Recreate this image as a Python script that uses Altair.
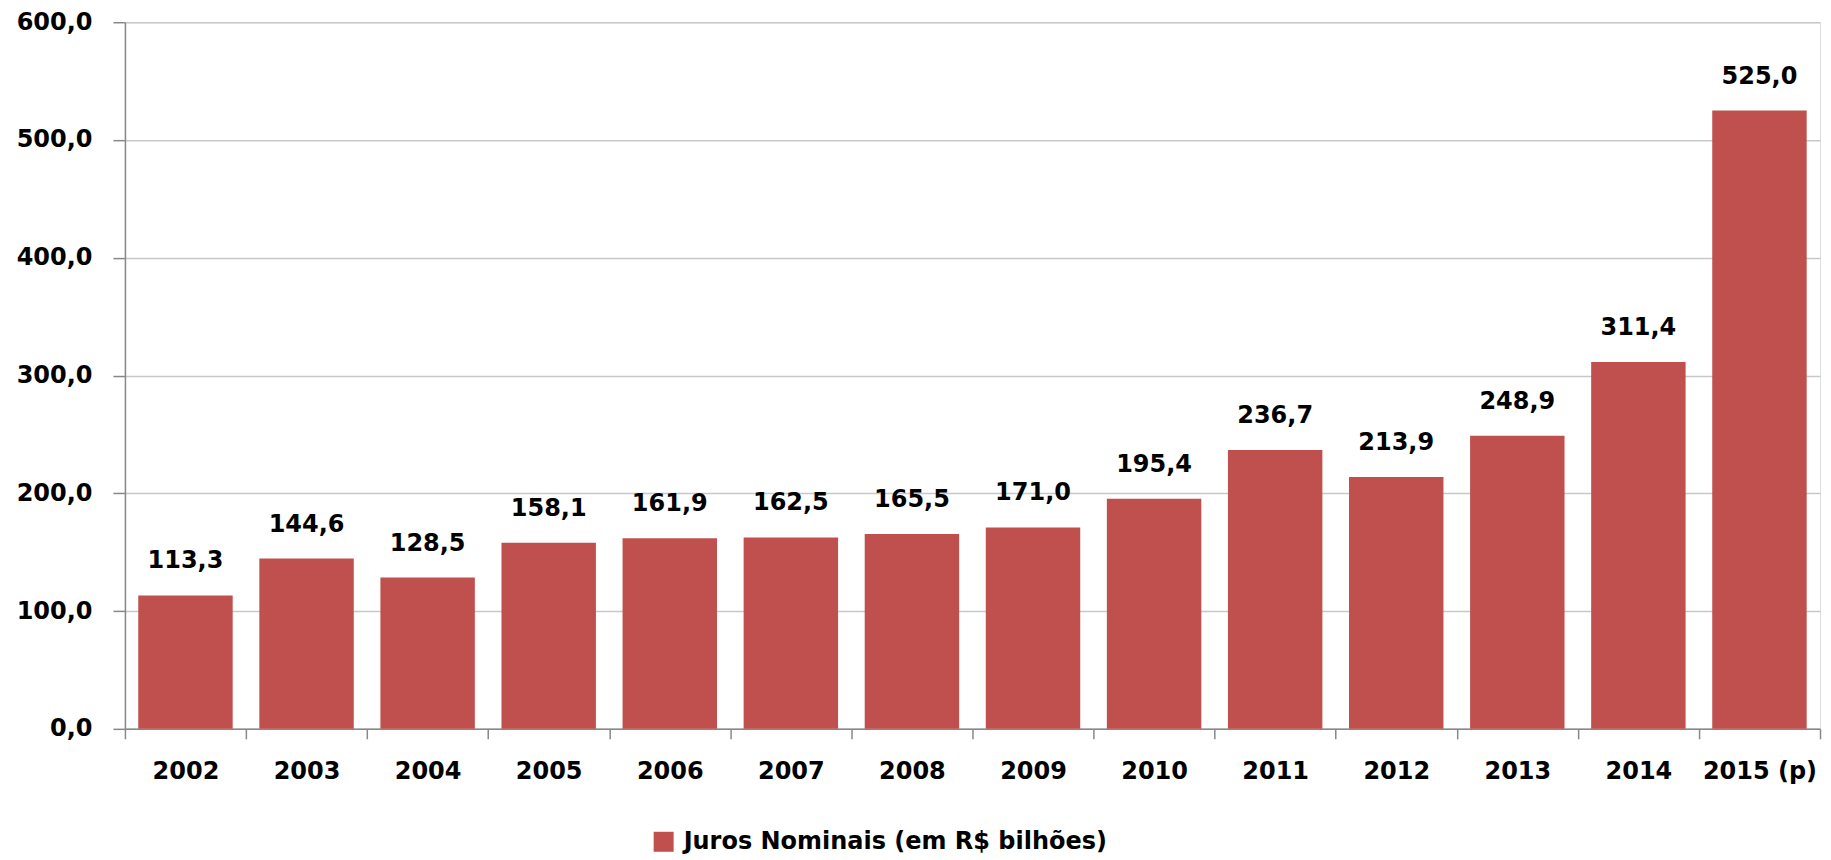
import altair as alt
import pandas as pd

years = ["2002", "2003", "2004", "2005", "2006", "2007", "2008", "2009",
         "2010", "2011", "2012", "2013", "2014", "2015 (p)"]
values = [113.3, 144.6, 128.5, 158.1, 161.9, 162.5, 165.5, 171.0,
          195.4, 236.7, 213.9, 248.9, 311.4, 525.0]
series_name = "Juros Nominais (em R$ bilhões)"
y_ticks = [0, 100, 200, 300, 400, 500, 600]

df = pd.DataFrame({"ano": years, "valor": values, "serie": series_name})

FONT = "DejaVu Sans"
RED = "#C0504D"

base = alt.Chart(df).encode(
    x=alt.X("ano:N", sort=years, title=None,
            scale=alt.Scale(paddingInner=0, paddingOuter=0),
            axis=alt.Axis(labelAngle=0, tickBand="extent", tickSize=10,
                          labelPadding=21, labelFont=FONT, labelFontSize=24,
                          labelFontWeight="bold", labelColor="#000000",
                          domainColor="#888888", tickColor="#888888",
                          domainWidth=1.5, tickWidth=1.5, grid=False)),
)

bars = base.mark_bar(color=RED, width=alt.RelativeBandSize(0.78)).encode(
    y=alt.Y("valor:Q", title=None,
            scale=alt.Scale(domain=[0, 600], nice=False),
            axis=alt.Axis(values=y_ticks, tickSize=12, labelPadding=21,
                          labelFont=FONT, labelFontSize=24, labelFontWeight="bold",
                          labelColor="#000000",
                          labelExpr="replace(format(datum.value, '.1f'), '.', ',')",
                          domainColor="#888888", tickColor="#888888",
                          domainWidth=1.5, tickWidth=1.5,
                          gridColor="#C8C8C8", gridWidth=1.5)),
    color=alt.Color("serie:N", title=None,
                    scale=alt.Scale(domain=[series_name], range=[RED]),
                    legend=alt.Legend(orient="none", legendX=527, legendY=808,
                                      symbolType="square", symbolSize=400,
                                      symbolStrokeWidth=0, symbolOpacity=1,
                                      labelFont=FONT, labelFontSize=24,
                                      labelFontWeight="bold", labelColor="#000000",
                                      labelLimit=800, padding=0, labelOffset=8)),
)

labels = base.transform_calculate(
    rotulo="replace(format(datum.valor, '.1f'), '.', ',')"
).mark_text(baseline="alphabetic", dy=-27, font=FONT, fontSize=24,
            fontWeight="bold", color="#000000").encode(
    y=alt.Y("valor:Q"),
    text="rotulo:N",
)

chart = (bars + labels).properties(
    width=1696, height=707,
    padding={"left": 8, "top": 2, "right": 2, "bottom": 2},
).configure_view(stroke=None).configure(background="#ffffff")

chart.save("out.html", embed_options={"renderer": "svg", "actions": False})
